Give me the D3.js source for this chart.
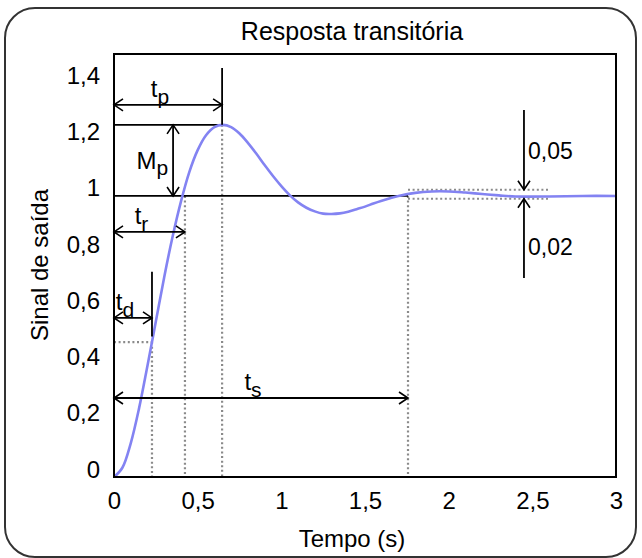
<!DOCTYPE html>
<html>
<head>
<meta charset="utf-8">
<script src="https://cdn.jsdelivr.net/npm/d3@7"></script>
<style>
  body { margin: 0; background: #fff; }
  text { font-family: "Liberation Sans", Arial, sans-serif; fill: #000; }
</style>
</head>
<body>
<svg id="chart" width="642" height="558"></svg>
<script>
// step response
const TIME = [0, 0.05, 0.1, 0.15, 0.2, 0.25, 0.3, 0.35, 0.4, 0.45, 0.5, 0.55, 0.6, 0.65, 0.7, 0.75,
  0.8, 0.85, 0.9, 0.95, 1, 1.05, 1.1, 1.15, 1.2, 1.25, 1.3, 1.35, 1.4, 1.45, 1.5, 1.55, 1.6,
  1.65, 1.7, 1.8, 1.9, 2, 2.1, 2.2, 2.3, 2.4, 2.6, 2.8, 3];
const OUTPUT = [0, 0.033, 0.12, 0.245, 0.396, 0.553, 0.711, 0.855, 0.98, 1.085, 1.163, 1.216, 1.245,
  1.253, 1.245, 1.222, 1.189, 1.151, 1.11, 1.071, 1.035, 1.003, 0.977, 0.958, 0.945, 0.937, 0.936,
  0.938, 0.944, 0.953, 0.962, 0.973, 0.983, 0.992, 1, 1.011, 1.016, 1.016, 1.012, 1.007, 1.002,
  0.998, 0.998, 1, 1];

const X_TICKS = [0, 0.5, 1, 1.5, 2, 2.5, 3];
const Y_TICKS = [0, 0.2, 0.4, 0.6, 0.8, 1, 1.2, 1.4];

// characteristic times: delay, rise, peak, settling
const MARK_NAMES = ["d", "r", "p", "s"];
const MARK_TIMES = [0.227, 0.424, 0.646, 1.757];
const MARK_ARROW_LEVELS = [0.566, 0.872, 1.324, 0.281];
const PEAK = 1.253;
const DELAY_LEVEL = 0.48;
const BAND = [1.022, 0.99];
const BAND_END = 2.606;
const BAND_LABELS = ["0,05", "0,02"];

const width = 642, height = 558;
const margin = { top: 54, right: 26, bottom: 81, left: 114 };

const svg = d3.select("#chart");

svg.append("rect")
  .attr("x", 5).attr("y", 8)
  .attr("width", 631).attr("height", 549)
  .attr("rx", 30)
  .attr("fill", "#fff")
  .attr("stroke", "#333")
  .attr("stroke-width", 2);

const x = d3.scaleLinear().domain([0, 3]).range([margin.left, width - margin.right]);
const y = d3.scaleLinear().domain([0, 1.505]).range([height - margin.bottom, margin.top]);

const fmt = (d) => String(d).replace(".", ",");

// arrow heads
const defs = svg.append("defs");
defs.append("marker")
  .attr("id", "arr")
  .attr("viewBox", "-12 -7 14 14")
  .attr("refX", 0).attr("refY", 0)
  .attr("markerWidth", 14).attr("markerHeight", 14)
  .attr("markerUnits", "userSpaceOnUse")
  .attr("orient", "auto-start-reverse")
  .append("path")
  .attr("d", "M-9,-6L0,0L-9,6")
  .attr("fill", "none")
  .attr("stroke", "#000")
  .attr("stroke-width", 1.6);

const dotted = (g) => g.attr("stroke", "#8a8a8a").attr("stroke-width", 2.2)
  .attr("stroke-dasharray", "2,2.6").attr("fill", "none");
const solid = (g) => g.attr("stroke", "#000").attr("stroke-width", 1.8).attr("fill", "none");

const plot = svg.append("g");

// dotted guide lines
MARK_TIMES.forEach((t, i) => {
  const top = i === 0 ? DELAY_LEVEL : i === 2 ? PEAK : 1;
  plot.append("line")
    .attr("x1", x(t)).attr("x2", x(t))
    .attr("y1", y(top)).attr("y2", y(0))
    .call(dotted);
});
plot.append("line")
  .attr("x1", x(0)).attr("x2", x(MARK_TIMES[0]))
  .attr("y1", y(DELAY_LEVEL)).attr("y2", y(DELAY_LEVEL))
  .call(dotted);
BAND.forEach((v) => {
  plot.append("line")
    .attr("x1", x(MARK_TIMES[3])).attr("x2", x(BAND_END))
    .attr("y1", y(v)).attr("y2", y(v))
    .call(dotted);
});

// reference levels
plot.append("line")
  .attr("x1", x(0)).attr("x2", x(MARK_TIMES[3]))
  .attr("y1", y(1)).attr("y2", y(1))
  .call(solid);
plot.append("line")
  .attr("x1", x(0)).attr("x2", x(MARK_TIMES[2]))
  .attr("y1", y(PEAK)).attr("y2", y(PEAK))
  .call(solid);

// response curve
const line = d3.line()
  .x((d, i) => x(TIME[i]))
  .y((d) => y(d))
  .curve(d3.curveCatmullRom);
plot.append("path")
  .datum(OUTPUT)
  .attr("d", line)
  .attr("fill", "none")
  .attr("stroke", "#8383f2")
  .attr("stroke-width", 2.6);

// vertical stems for td and tp
plot.append("line")
  .attr("x1", x(MARK_TIMES[0])).attr("x2", x(MARK_TIMES[0]))
  .attr("y1", y(0.73)).attr("y2", y(0.5))
  .call(solid);
plot.append("line")
  .attr("x1", x(MARK_TIMES[2])).attr("x2", x(MARK_TIMES[2]))
  .attr("y1", y(1.455)).attr("y2", y(PEAK))
  .call(solid);

// time arrows with labels
MARK_TIMES.forEach((t, i) => {
  const lv = MARK_ARROW_LEVELS[i];
  plot.append("line")
    .attr("x1", x(0)).attr("x2", x(t))
    .attr("y1", y(lv)).attr("y2", y(lv))
    .call(solid)
    .attr("marker-start", "url(#arr)")
    .attr("marker-end", "url(#arr)");
  const lbl = plot.append("text")
    .attr("x", (x(0) + x(t)) / 2 - 8)
    .attr("y", y(lv) - 8)
    .attr("text-anchor", "middle")
    .style("font-size", "24px");
  lbl.append("tspan").text("t");
  lbl.append("tspan").attr("dy", 7).style("font-size", "21px").text(MARK_NAMES[i]);
});

// overshoot arrow
const mpX = 0.353;
plot.append("line")
  .attr("x1", x(mpX)).attr("x2", x(mpX))
  .attr("y1", y(PEAK)).attr("y2", y(1))
  .call(solid)
  .attr("marker-start", "url(#arr)")
  .attr("marker-end", "url(#arr)");
const mp = plot.append("text")
  .attr("x", x(mpX) - 5)
  .attr("y", (y(PEAK) + y(1)) / 2 + 9)
  .attr("text-anchor", "end")
  .style("font-size", "24px");
mp.append("tspan").text("M");
mp.append("tspan").attr("dy", 6).style("font-size", "21px").text("p");

// tolerance arrows
const tolX = 2.45;
plot.append("line")
  .attr("x1", x(tolX)).attr("x2", x(tolX))
  .attr("y1", y(1.306)).attr("y2", y(BAND[0]))
  .call(solid)
  .attr("marker-end", "url(#arr)");
plot.append("line")
  .attr("x1", x(tolX)).attr("x2", x(tolX))
  .attr("y1", y(0.708)).attr("y2", y(BAND[1]))
  .call(solid)
  .attr("marker-end", "url(#arr)");
[1.16, 0.82].forEach((v, i) => {
  plot.append("text")
    .attr("x", x(tolX) + 4)
    .attr("y", y(v) + 8)
    .style("font-size", "23px")
    .text(BAND_LABELS[i]);
});

// frame
svg.append("rect")
  .attr("x", margin.left).attr("y", margin.top)
  .attr("width", width - margin.left - margin.right)
  .attr("height", height - margin.top - margin.bottom)
  .attr("fill", "none")
  .attr("stroke", "#000")
  .attr("stroke-width", 2);

// axes
const xAxis = svg.append("g")
  .attr("transform", `translate(0,${height - margin.bottom})`)
  .call(d3.axisBottom(x).tickValues(X_TICKS).tickSize(0).tickPadding(15).tickFormat(fmt));
const yAxis = svg.append("g")
  .attr("transform", `translate(${margin.left},0)`)
  .call(d3.axisLeft(y).tickValues(Y_TICKS).tickSize(0).tickPadding(14).tickFormat(fmt));
[xAxis, yAxis].forEach((a) => {
  a.select(".domain").remove();
  a.selectAll("text").style("font-size", "24px").attr("font-family", null);
});
xAxis.selectAll("text").attr("dy", "0.72em");
yAxis.selectAll("text").attr("dy", "0em");

svg.append("text")
  .attr("x", 352).attr("y", 40)
  .attr("text-anchor", "middle")
  .style("font-size", "25px")
  .text("Resposta transitória");
svg.append("text")
  .attr("x", 352).attr("y", 547)
  .attr("text-anchor", "middle")
  .style("font-size", "24px")
  .text("Tempo (s)");
svg.append("text")
  .attr("transform", "translate(48,265) rotate(-90)")
  .attr("text-anchor", "middle")
  .style("font-size", "24px")
  .text("Sinal de saída");
</script>
</body>
</html>
